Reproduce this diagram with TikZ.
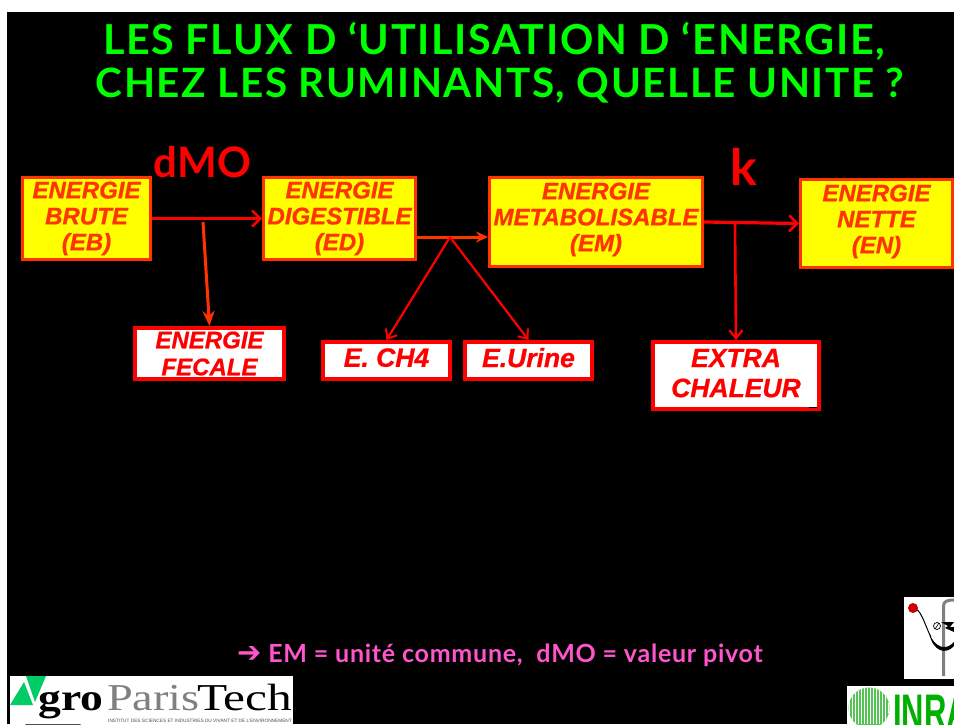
\documentclass[tikz,border=0pt]{standalone}
\usepackage{fontspec}
\setmainfont{Liberation Sans}
\newfontfamily\titlefont[LetterSpace=4,Ligatures=NoCommon]{Lato Bold}
\newfontfamily\headfont{Lato Bold}
\newfontfamily\pinkfont[LetterSpace=3]{Lato Bold}
\newfontfamily\arrowfont{DejaVu Sans}
\newfontfamily\logofont{Liberation Serif}
\newfontfamily\boxfont[FakeBold=0.8]{Liberation Sans Bold Italic}
\usetikzlibrary{arrows.meta}
\definecolor{oredge}{HTML}{FF3300}
\definecolor{boxyellow}{HTML}{FFFF00}
\definecolor{titlegreen}{HTML}{00FF00}
\definecolor{pinktxt}{HTML}{FF55CC}
\definecolor{inragreen}{HTML}{00B000}
\definecolor{agrogreen}{HTML}{00CC66}
\definecolor{discgreen}{HTML}{55C455}
\tikzset{
  ybox/.style={draw=oredge,fill=boxyellow,line width=3pt,text=oredge,align=center,inner sep=0pt,
    font=\fontsize{24}{26}\selectfont\boxfont},
  wbox/.style={draw=red,fill=white,line width=4pt,text=red,align=center,inner sep=0pt,
    font=\fontsize{26.5}{30}\selectfont\boxfont},
  openarrow/.style={draw=red,line width=3.2pt,-{Straight Barb[length=8pt,width=16pt,line width=2.6pt]}},
  openarrowb/.style={draw=red,line width=2.6pt,-{Straight Barb[length=8pt,width=13pt,line width=2.2pt]}},
  thinarrow/.style={draw=red,line width=2.2pt,-{Straight Barb[length=8pt,width=13pt,line width=2pt]}},
  fillarrow/.style={draw=oredge,line width=3pt,-{Stealth[length=15pt,width=12pt]}},
  fillarrowb/.style={draw=oredge,line width=3pt,-{Stealth[length=12pt,width=11pt]}},
  titletext/.style={text=titlegreen,inner sep=0pt},
  bigred/.style={text=red,inner sep=0pt},
  logotext/.style={inner sep=0pt,anchor=base west},
}
\begin{document}
\begin{tikzpicture}[x=1pt,y=-1pt]
\useasboundingbox (0,0) rectangle (954,724);
\fill[white] (0,0) rectangle (954,724);
\fill[black] (7,12) rectangle (954,724);
% title
\node[titletext,font=\fontsize{41.3}{41.3}\selectfont\titlefont] (t1) at (494,41) {LES FLUX D ‘UTILISATION D ‘ENERGIE,};
\node[titletext,font=\fontsize{40.4}{40.4}\selectfont\titlefont] (t2) at (500,86) {CHEZ LES RUMINANTS, QUELLE UNITE ?};
% boxes
\node[ybox,minimum width=128pt,minimum height=82pt] (EB) at (86.5,218.5) {ENERGIE\\BRUTE\\(EB)};
\node[ybox,minimum width=152pt,minimum height=82pt] (ED) at (339.5,218.5) {ENERGIE\\DIGESTIBLE\\(ED)};
\node[ybox,minimum width=213pt,minimum height=89pt,text depth=10pt] (EM) at (596,222) {ENERGIE\\METABOLISABLE\\(EM)};
\node[ybox,minimum width=152pt,minimum height=88pt,text depth=9pt] (EN) at (876.5,223.5) {ENERGIE\\NETTE\\(EN)};
\node[wbox,minimum width=149pt,minimum height=51pt,font=\fontsize{24}{27}\selectfont\boxfont] (EF) at (209.5,353.5) {ENERGIE\\FECALE};
\node[wbox,minimum width=127pt,minimum height=37pt,text depth=6pt] (CH) at (386.5,360.5) {E. CH4};
\node[wbox,minimum width=127pt,minimum height=37pt,text depth=6pt] (UR) at (528.5,360.5) {E.Urine};
\node[wbox,minimum width=166pt,minimum height=67pt,text depth=5pt] (XC) at (736,375.5) {EXTRA\\CHALEUR};
% big labels
\node[bigred,font=\fontsize{42}{42}\selectfont\headfont] (dmo) at (202.5,162) {dMO};
\node[bigred,font=\fontsize{50}{50}\selectfont\headfont] (kk) at (744,167) {k};
% connector points
\coordinate (j1) at (203,222);
\coordinate (j2) at (450,237);
\coordinate (emin) at (EM.west|-j2);
\coordinate (j3) at (735,222.5);
% connectors
\draw[openarrow] (EB) -- (ED);
\draw[fillarrow] (j1) -- (EF.north);
\draw[draw=oredge,line width=3pt] (ED.east|-j2) -- (j2);
\draw[fillarrowb] (j2) -- (emin);
\draw[thinarrow] (j2) -- (CH.north);
\draw[thinarrow] (j2) -- (UR.north);
\draw[openarrow] (EM.east) -- (EN.west);
\draw[openarrowb] (j3) -- (XC.north);
% stray marks
\draw[black,line width=1.2pt] (809,407.5) -- (817,407.5);
% bottom text
\node[text=pinktxt,inner sep=0pt,font=\fontsize{25}{25}\selectfont\pinkfont] (pink) at (500,655) {{\fontsize{29}{29}\selectfont\arrowfont ➔} EM = unité commune,\ \ dMO = valeur pivot};
% AgroParisTech logo
\begin{scope}
\clip (0,0) rectangle (954,724);
\fill[white] (10,676) rectangle (293,724);
\fill[agrogreen] (10,705) -- (33,705) -- (24,682) -- cycle;
\fill[agrogreen] (26,676) -- (46,676) -- (35,702) -- cycle;
\node[logotext,font=\fontsize{38}{38}\selectfont\logofont\bfseries] (gro) at (38,710) {\scalebox{1.2}[1]{gro}};
\node[logotext,text=black!50,font=\fontsize{38}{38}\selectfont\logofont] (paris) at (107,710) {\scalebox{1.22}[1]{Paris}};
\node[logotext,font=\fontsize{38}{38}\selectfont\logofont] (tech) at (197,710) {\scalebox{1.3}[1]{Tech}};
\node[inner sep=0pt,anchor=base east,text=black!70,font=\fontsize{4.75}{4.75}\selectfont] (inst) at (292,722.5) {INSTITUT DES SCIENCES ET INDUSTRIES DU VIVANT ET DE L'ENVIRONNEMENT};
\fill[black!70] (25,724) arc[start angle=180,end angle=0,x radius=28,y radius=3] -- cycle;
\end{scope}
% lab logo
\begin{scope}
\clip (904,597) rectangle (954,679);
\fill[white] (904,597) rectangle (954,679);
\draw[black!50,line width=3pt] (943.5,676) -- (943.5,606) .. controls (943.5,601) and (948,600) .. (954,600);
\draw[black,line width=1pt] (916,609) .. controls (922,612) and (926,628) .. (931,637);
\fill[black] (929,633) .. controls (935,648) and (946,651) .. (954,642) -- (954,646) .. controls (946,655) and (933,652) .. (929,633) -- cycle;
\fill[red!80!black] (913,608) circle (5pt);
\draw[black,line width=.7pt,fill=white] (937,626) circle (3.5pt);
\draw[black,line width=.6pt] (935,629) -- (939,623);
\fill[black] (941,622) -- (954,622) -- (950,627) -- (954,627) -- (954,632) -- (945,628) -- (948,626) -- cycle;
\end{scope}
% INRA logo
\begin{scope}
\clip (847,686) rectangle (954,724);
\fill[white] (847,686) rectangle (954,724);
\begin{scope}
\clip (869,708) circle (20.5pt);
\fill[discgreen] (847,686) rectangle (890,730);
\foreach \xx in {849,852,...,889} {\draw[white,line width=1pt] (\xx,686) -- (\xx,724);}
\end{scope}
\node[logotext,text=inragreen] (inra) at (893,729) {\scalebox{.62}[1]{\fontsize{50}{50}\selectfont\bfseries INRA}};
\end{scope}
\end{tikzpicture}
\end{document}
